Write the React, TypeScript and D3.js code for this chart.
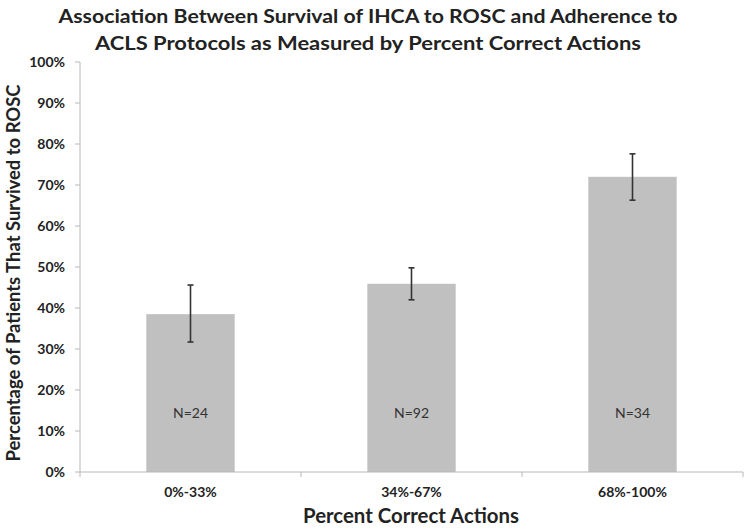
import React from "react";
import * as d3 from "d3";

const categories = ["0%-33%", "34%-67%", "68%-100%"];
const values = [38.5, 45.9, 72.0];
const errLow = [31.7, 42.0, 66.3];
const errHigh = [45.6, 49.8, 77.6];
const nLabels = ["N=24", "N=92", "N=34"];
const yTicks = [0, 10, 20, 30, 40, 50, 60, 70, 80, 90, 100];

const W = 750;
const H = 530;
const left = 80;
const right = 743;
const top = 62;
const bottom = 472;
const font = "Lato, 'Open Sans', sans-serif";
const textColor = "#222";

export default function App() {
  const x = d3.scaleBand<string>().domain(categories).range([left, right]).paddingInner(0.6).paddingOuter(0.3);
  const y = d3.scaleLinear().domain([0, 100]).range([bottom, top]);
  const step = (right - left) / categories.length;
  const boundaries = d3.range(categories.length + 1).map((i) => left + i * step);

  return (
    <svg width={W} height={H} style={{ position: "absolute", left: 0, top: 0, background: "#fff" }}>
      <rect x={0} y={0} width={W} height={H} fill="#fff" />
      <text x={368} y={23} textAnchor="middle" fontFamily={font} fontWeight={700} fontSize={18} fill={textColor} textLength={619} lengthAdjust="spacingAndGlyphs">
        Association Between Survival of IHCA to ROSC and Adherence to
      </text>
      <text x={368} y={50} textAnchor="middle" fontFamily={font} fontWeight={700} fontSize={18} fill={textColor} textLength={546} lengthAdjust="spacingAndGlyphs">
        ACLS Protocols as Measured by Percent Correct Actions
      </text>

      {categories.map((c, i) => (
        <rect key={c} x={x(c)} y={y(values[i])} width={x.bandwidth()} height={y(0) - y(values[i])} fill="#c0c0c0" />
      ))}

      {categories.map((c, i) => {
        const cx = (x(c) as number) + x.bandwidth() / 2;
        return (
          <g key={"e" + c} stroke="#333" strokeWidth={1.6}>
            <line x1={cx} x2={cx} y1={y(errHigh[i])} y2={y(errLow[i])} />
            <line x1={cx - 3} x2={cx + 3} y1={y(errHigh[i])} y2={y(errHigh[i])} />
            <line x1={cx - 3} x2={cx + 3} y1={y(errLow[i])} y2={y(errLow[i])} />
          </g>
        );
      })}

      {categories.map((c, i) => (
        <text key={"n" + c} x={(x(c) as number) + x.bandwidth() / 2} y={418} textAnchor="middle" fontFamily={font} fontSize={14} fill="#333">
          {nLabels[i]}
        </text>
      ))}

      <line x1={left} x2={left} y1={top} y2={bottom} stroke="#b8b8b8" strokeWidth={1} />
      {yTicks.map((t) => (
        <g key={"y" + t}>
          <line x1={left - 5} x2={left} y1={y(t)} y2={y(t)} stroke="#b8b8b8" strokeWidth={1} />
          <text x={65} y={y(t) + 5} textAnchor="end" fontFamily={font} fontWeight={700} fontSize={14} fill={textColor}>
            {t + "%"}
          </text>
        </g>
      ))}

      <line x1={left} x2={right} y1={bottom} y2={bottom} stroke="#b8b8b8" strokeWidth={1} />
      {boundaries.map((b, i) => (
        <line key={"b" + i} x1={b} x2={b} y1={bottom} y2={bottom + 5} stroke="#b8b8b8" strokeWidth={1} />
      ))}
      {categories.map((c) => (
        <text key={"t" + c} x={(x(c) as number) + x.bandwidth() / 2} y={497} textAnchor="middle" fontFamily={font} fontWeight={700} fontSize={14} fill={textColor}>
          {c}
        </text>
      ))}

      <text x={411} y={523} textAnchor="middle" fontFamily={font} fontWeight={700} fontSize={20} fill={textColor} textLength={216} lengthAdjust="spacingAndGlyphs">
        Percent Correct Actions
      </text>
      <text transform={`translate(20,${(top + bottom) / 2 + 6}) rotate(-90)`} textAnchor="middle" fontFamily={font} fontWeight={700} fontSize={18} fill={textColor} textLength={377} lengthAdjust="spacingAndGlyphs">
        Percentage of Patients That  Survived to ROSC
      </text>
    </svg>
  );
}
